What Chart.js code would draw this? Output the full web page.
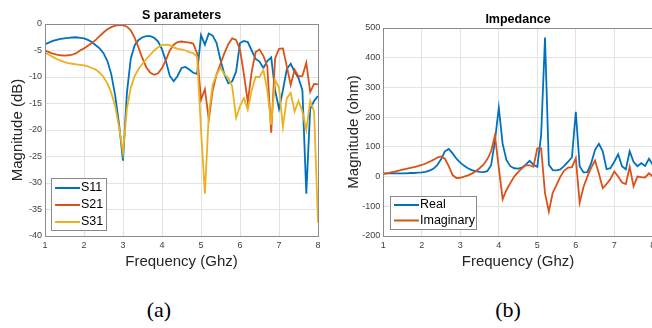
<!DOCTYPE html>
<html>
<head>
<meta charset="utf-8">
<script src="https://cdn.jsdelivr.net/npm/chart.js@4.4.1/dist/chart.umd.min.js"></script>
<style>
  html, body { margin: 0; padding: 0; background: #fff; overflow: hidden; width: 652px; height: 328px; }
  .wrap { position: absolute; top: 0; height: 280px; width: 330px; }
  #wa { left: 0; }
  #wb { left: 330px; }
  .cap { position: absolute; top: 297px; width: 60px; text-align: center; line-height: 25px;
         font-family: "Liberation Serif", "Times New Roman", serif; font-size: 22px; color: #000; }
</style>
</head>
<body>
<div class="wrap" id="wa"><canvas id="sChart"></canvas></div>
<div class="wrap" id="wb"><canvas id="zChart"></canvas></div>
<div class="cap" style="left:129px">(a)</div>
<div class="cap" style="left:478px">(b)</div>
<script>
// frequency points (GHz)
const freq = [1.0, 1.1, 1.2, 1.3, 1.4, 1.5, 1.6, 1.7, 1.8, 1.9,
              2.0, 2.1, 2.2, 2.3, 2.4, 2.5, 2.6, 2.7, 2.8, 2.9,
              3.0, 3.1, 3.2, 3.3, 3.4, 3.5, 3.6, 3.7, 3.8, 3.9,
              4.0, 4.1, 4.2, 4.3, 4.4, 4.5, 4.6, 4.7, 4.8, 4.9,
              5.0, 5.1, 5.2, 5.3, 5.4, 5.5, 5.6, 5.7, 5.8, 5.9,
              6.0, 6.1, 6.2, 6.3, 6.4, 6.5, 6.6, 6.7, 6.8, 6.9,
              7.0, 7.1, 7.2, 7.3, 7.4, 7.5, 7.6, 7.7, 7.8, 7.9, 8.0];

// S parameters (dB)
const s11 = [-3.8, -3.5, -3.2, -3.0, -2.8, -2.7, -2.6, -2.55, -2.5, -2.6,
             -2.7, -3.0, -3.4, -4.0, -4.6, -5.5, -7.0, -9.5, -13.5, -19.0,
             -25.8, -13.0, -6.5, -4.0, -3.0, -2.5, -2.3, -2.3, -2.6, -3.3,
             -4.8, -7.0, -9.8, -10.8, -9.8, -8.3, -8.1, -8.6, -9.2, -9.4,
             -2.1, -3.9, -1.8, -2.2, -3.6, -6.8, -9.5, -11.2, -10.8, -9.0,
             -3.6, -3.2, -3.4, -5.0, -6.6, -7.1, -8.3, -7.0, -6.3, -12.5,
             -16.0, -12.5, -8.5, -7.5, -9.0, -10.2, -12.5, -32.0, -16.0, -14.5, -13.6];
const s21 = [-5.0, -5.3, -5.6, -5.8, -5.9, -5.95, -5.9, -5.8, -5.5, -5.0,
             -4.6, -4.1, -3.6, -3.0, -2.3, -1.6, -1.0, -0.6, -0.3, -0.2,
             -0.2, -0.5, -1.2, -2.6, -4.5, -6.5, -8.2, -9.2, -9.6, -9.3,
             -8.3, -6.8, -5.0, -3.9, -3.4, -3.3, -3.4, -3.5, -3.7, -5.5,
             -14.3, -12.3, -18.0, -12.5, -9.5, -7.5, -5.5, -3.8, -2.7, -3.0,
             -4.8, -9.5, -14.7, -9.0, -5.3, -4.8, -6.0, -8.0, -20.5, -6.5,
             -4.7, -4.6, -8.0, -11.5, -8.6, -9.9, -9.8, -7.3, -12.8, -11.3, -11.4];
const s31 = [-5.4, -5.8, -6.2, -6.6, -6.9, -7.2, -7.4, -7.5, -7.6, -7.7,
             -7.8, -8.0, -8.3, -8.6, -9.2, -10.0, -11.2, -13.0, -15.5, -19.5,
             -24.3, -16.0, -12.0, -9.8, -8.5, -7.5, -6.6, -5.8, -5.0, -4.4,
             -4.0, -3.9, -4.0, -4.4, -4.7, -4.8, -5.0, -5.3, -5.5, -6.2,
             -20.0, -32.0, -17.0, -11.5, -9.5, -8.2, -9.5, -10.2, -11.8, -17.7,
             -15.5, -14.0, -16.2, -12.5, -10.0, -10.0, -8.7, -12.5, -19.0, -10.6,
             -12.0, -19.4, -14.0, -13.0, -16.5, -14.5, -16.5, -20.0, -14.5, -16.5, -37.5];

// impedance (ohm)
const zReal = [11, 11, 11, 11, 11, 11, 11, 12, 12, 13,
               14, 16, 20, 26, 38, 58, 85, 93, 78, 60,
               47, 36, 28, 22, 18, 16, 15, 18, 38, 120,
               232, 110, 55, 35, 28, 27, 30, 40, 53, 40,
               33, 140, 468, 40, 22, 21, 24, 36, 50, 65,
               218, 35, 14, 15, 45, 90, 110, 85, 25, 28,
               50, 75, 35, 24, 85, 50, 35, 45, 36, 60, 40];
const zImag = [8, 11, 14, 17, 20, 23, 26, 29, 32, 35,
               39, 44, 50, 56, 64, 68, 60, 35, 5, -5,
               -4, 0, 4, 10, 18, 28, 40, 58, 85, 138,
               30, -76, -45, -22, 0, 15, 28, 38, 38, 33,
               95, 95, -56, -118, -55, -28, 0, 20, 30, 32,
               62, -88, -35, 0, 30, 54, 10, -39, -25, -8,
               17, 0, -20, -25, 33, -33, 0, -2, -3, 11, 0];

// axis ticks
const xTicks = [1, 2, 3, 4, 5, 6, 7, 8];
const sTicks = [-40, -35, -30, -25, -20, -15, -10, -5, 0];
const zTicks = [-200, -100, 0, 100, 200, 300, 400, 500];

const FONT = '"Liberation Sans", Arial, Helvetica, sans-serif';
const GRID = '#e3e3e3';
const TICK = '#404040';
const AXIS = '#262626';
const COLORS = ['#0072BD', '#D95319', '#EDB120'];

function pts(ys) {
	return freq.map((f, i) => ({ x: f, y: ys[i] }));
}

// box round the plot area, matlab style
const framePlugin = {
	id: 'frame',
	afterDraw(chart) {
		const a = chart.chartArea, ctx = chart.ctx;
		ctx.save();
		ctx.strokeStyle = '#8a8a8a';
		ctx.lineWidth = 1;
		ctx.strokeRect(Math.round(a.left) + 0.5, Math.round(a.top) + 0.5,
			Math.round(a.right - a.left), Math.round(a.bottom - a.top));
		ctx.restore();
	}
};

// legend drawn inside the plot, lower left
const boxLegend = {
	id: 'boxLegend',
	afterDraw(chart, args, opts) {
		const a = chart.chartArea, ctx = chart.ctx;
		const x = a.left + opts.dx, y = a.bottom - opts.dy - opts.h;
		ctx.save();
		ctx.fillStyle = '#fff';
		ctx.fillRect(x, y, opts.w, opts.h);
		ctx.strokeStyle = '#8a8a8a';
		ctx.lineWidth = 1;
		ctx.strokeRect(Math.round(x) + 0.5, Math.round(y) + 0.5, opts.w, opts.h);
		ctx.font = '12.5px ' + FONT;
		ctx.textBaseline = 'middle';
		chart.data.datasets.forEach((ds, i) => {
			const cy = y + opts.pad + i * opts.row;
			ctx.strokeStyle = ds.borderColor;
			ctx.lineWidth = 2;
			ctx.beginPath();
			ctx.moveTo(x + 4, cy);
			ctx.lineTo(x + 29, cy);
			ctx.stroke();
			ctx.fillStyle = '#000';
			ctx.fillText(ds.label, x + 30, cy);
		});
		ctx.restore();
	}
};

function makeChart(id, labels, series, yTicks, cfg) {
	const n = series.length;
	return new Chart(document.getElementById(id).getContext('2d'), {
		type: 'line',
		data: {
			datasets: series.map((s, i) => ({
				label: labels[i],
				data: pts(s),
				borderColor: COLORS[i],
				borderWidth: 1.8,
				pointRadius: 0,
				tension: 0,
				fill: false,
				order: n - i
			}))
		},
		options: {
			responsive: true,
			maintainAspectRatio: false,
			animation: false,
			layout: { padding: { left: 0, right: cfg.padRight, top: 0, bottom: 0 } },
			plugins: {
				legend: { display: false },
				tooltip: { enabled: false },
				title: {
					display: true, text: cfg.title, color: '#000', fullSize: false,
					font: { family: FONT, size: 12.5, weight: 'bold' },
					padding: { top: cfg.titleTop, bottom: 1 }
				},
				boxLegend: cfg.legend
			},
			scales: {
				x: {
					type: 'linear', min: xTicks[0], max: xTicks[xTicks.length - 1],
					afterFit: s => { s.height = 44; },
					afterBuildTicks: s => { s.ticks = xTicks.map(v => ({ value: v })); },
					grid: { color: GRID, drawTicks: false },
					border: { display: false },
					ticks: { color: TICK, font: { family: FONT, size: 9 }, padding: 4, maxRotation: 0 },
					title: {
						display: true, text: 'Frequency (Ghz)', color: AXIS,
						font: { family: FONT, size: 15 }, padding: { top: 0, bottom: 9.3 }
					}
				},
				y: {
					type: 'linear', min: yTicks[0], max: yTicks[yTicks.length - 1],
					afterFit: s => { s.width = cfg.yWidth; },
					afterBuildTicks: s => { s.ticks = yTicks.map(v => ({ value: v })); },
					grid: { color: GRID, drawTicks: false },
					border: { display: false },
					ticks: { color: TICK, font: { family: FONT, size: 9 }, padding: 3 },
					title: {
						display: true, text: cfg.yTitle, color: AXIS,
						font: { family: FONT, size: 15 }, padding: { top: cfg.yTitlePad, bottom: 0 }
					}
				}
			}
		},
		plugins: [framePlugin, boxLegend]
	});
}

makeChart('sChart', ['S11', 'S21', 'S31'], [s11, s21, s31], sTicks, {
	title: 'S parameters', titleTop: 8, padRight: 12, yWidth: 45,
	yTitle: 'Magnitude (dB)', yTitlePad: 9,
	legend: { dx: 6, dy: 6, w: 55, h: 52, row: 17, pad: 10 }
});

makeChart('zChart', ['Real', 'Imaginary'], [zReal, zImag], zTicks, {
	title: 'Impedance', titleTop: 12, padRight: 7.2, yWidth: 53.3,
	yTitle: 'Magnitude (ohm)', yTitlePad: 14.5,
	legend: { dx: 6.7, dy: 7, w: 86, h: 33, row: 15.5, pad: 9 }
});
</script>
</body>
</html>
